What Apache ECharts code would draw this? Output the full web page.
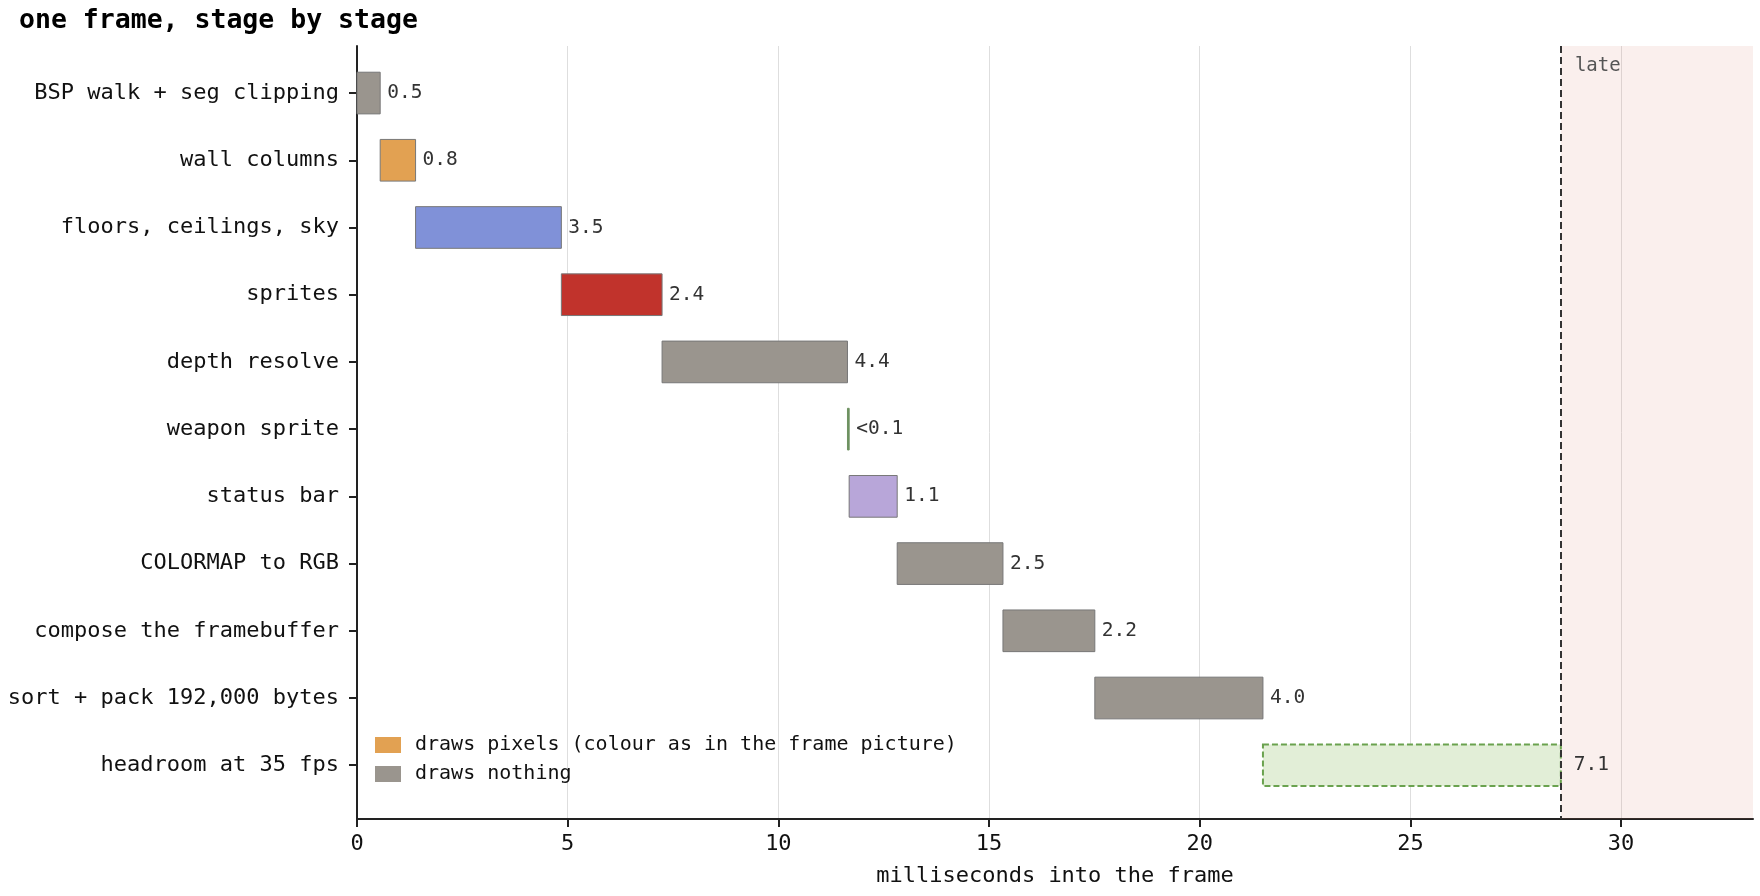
<!DOCTYPE html>
<html>
<head>
<meta charset="utf-8">
<script src="https://cdn.jsdelivr.net/npm/echarts@6/dist/echarts.min.js"></script>
<style>
html, body { margin: 0; padding: 0; background: #fff; }
#main { width: 1760px; height: 896px; }
</style>
</head>
<body>
<div id="main"></div>
<script>
// stages of one frame, in order
var stages = ['BSP walk + seg clipping', 'wall columns', 'floors, ceilings, sky', 'sprites',
              'depth resolve', 'weapon sprite', 'status bar', 'COLORMAP to RGB',
              'compose the framebuffer', 'sort + pack 192,000 bytes', 'headroom at 35 fps'];
// milliseconds spent in each stage (last one = what is left of the budget)
var durations = [0.55, 0.84, 3.46, 2.39, 4.40, 0.04, 1.14, 2.51, 2.18, 3.99, 7.07];
var valueLabels = ['0.5', '0.8', '3.5', '2.4', '4.4', '<0.1', '1.1', '2.5', '2.2', '4.0', '7.1'];
var frameBudget = 28.571;   // 1000 / 35
var xMax = 33.13;
var xTicks = [0, 5, 10, 15, 20, 25, 30];
var legendNames = ['draws pixels (colour as in the frame picture)', 'draws nothing'];

var FONT = '"DejaVu Sans Mono", monospace';
var fills   = ['#9a958e', '#e2a152', '#8091d8', '#c1332c', '#9a958e', '#6e9160',
               '#b8a6d9', '#9a958e', '#9a958e', '#9a958e', '#e2eed7'];
var strokes = ['#777', '#777', '#777', '#777', '#777', '#6e9160',
               '#777', '#777', '#777', '#777', '#6aa24f'];

// start of every stage = sum of the ones before it
var rows = [];
var t = 0;
for (var i = 0; i < stages.length; i++) {
    rows.push([i, t, durations[i]]);
    t += durations[i];
}
var rowTicks = [];
for (var k = 0; k < stages.length; k++) rowTicks.push(k);

var myChart = echarts.init(document.getElementById('main'));

var option = {
    backgroundColor: '#fff',
    animation: false,
    title: {
        text: 'one frame, stage by stage',
        left: 14,
        top: 3,
        textStyle: { fontFamily: FONT, fontSize: 26.5, fontWeight: 'bold', color: '#000' }
    },
    grid: { left: 357, right: 7, top: 46, bottom: 77 },
    legend: {
        orient: 'vertical',
        left: 370,
        top: 730,
        itemWidth: 26,
        itemHeight: 16,
        itemGap: 9,
        icon: 'rect',
        data: legendNames,
        textStyle: { fontFamily: FONT, fontSize: 20, color: '#111', padding: [0, 0, 0, 9] }
    },
    xAxis: {
        type: 'value',
        min: 0,
        max: xMax,
        interval: 5,
        name: 'milliseconds into the frame',
        nameLocation: 'middle',
        nameGap: 46,
        nameTextStyle: { fontFamily: FONT, fontSize: 22, color: '#111' },
        axisLine: { show: true, onZero: false, lineStyle: { color: '#222', width: 2 } },
        axisTick: { show: true, customValues: xTicks, length: 8, lineStyle: { color: '#222', width: 2 } },
        axisLabel: { customValues: xTicks, margin: 14, fontFamily: FONT, fontSize: 22, color: '#111' },
        splitLine: { show: true, lineStyle: { color: '#dedede', width: 1 } }
    },
    yAxis: {
        type: 'value',
        inverse: true,
        min: -0.7,
        max: 10.8,
        axisLine: { show: true, onZero: false, lineStyle: { color: '#222', width: 2 } },
        axisTick: { show: true, customValues: rowTicks, length: 8, lineStyle: { color: '#222', width: 2 } },
        axisLabel: {
            customValues: rowTicks,
            margin: 18,
            fontFamily: FONT,
            fontSize: 22,
            color: '#111',
            formatter: function (v) { return stages[Math.round(v)]; }
        },
        splitLine: { show: false }
    },
    series: [
        {
            type: 'custom',
            name: 'stages',
            data: rows,
            encode: { x: [1, 2], y: 0 },
            renderItem: function (params, api) {
                var idx = api.value(0);
                var start = api.value(1);
                var dur = api.value(2);
                var p0 = api.coord([start, idx]);
                var p1 = api.coord([start + dur, idx]);
                var h = api.size([0, 0.62])[1];
                var last = idx === stages.length - 1;
                return {
                    type: 'group',
                    children: [{
                        type: 'rect',
                        shape: { x: p0[0], y: p0[1] - h / 2, width: Math.max(p1[0] - p0[0], 1), height: h },
                        style: {
                            fill: fills[idx],
                            stroke: strokes[idx],
                            lineWidth: last ? 2 : 1,
                            lineDash: last ? [6, 3] : null
                        }
                    }, {
                        type: 'text',
                        style: {
                            text: valueLabels[idx],
                            x: p1[0] + (last ? 13 : 7),
                            y: p1[1],
                            verticalAlign: 'middle',
                            fill: '#333',
                            font: '19.5px ' + FONT
                        }
                    }]
                };
            },
            markArea: {
                silent: true,
                itemStyle: { color: 'rgba(214,120,110,0.12)' },
                label: {
                    show: true,
                    position: [14, 11],
                    formatter: 'late',
                    fontFamily: FONT,
                    fontSize: 19,
                    color: '#555'
                },
                data: [[{ xAxis: frameBudget }, { xAxis: xMax }]]
            },
            markLine: {
                silent: true,
                symbol: ['none', 'none'],
                label: { show: false },
                lineStyle: { type: [7, 4], color: '#333', width: 2 },
                data: [{ xAxis: frameBudget }]
            },
            z: 3
        },
        // legend entries only
        { type: 'custom', name: legendNames[0], data: [], itemStyle: { color: '#e2a152' }, renderItem: function () { return null; } },
        { type: 'custom', name: legendNames[1], data: [], itemStyle: { color: '#9a958e' }, renderItem: function () { return null; } }
    ]
};
myChart.setOption(option);
</script>
</body>
</html>
